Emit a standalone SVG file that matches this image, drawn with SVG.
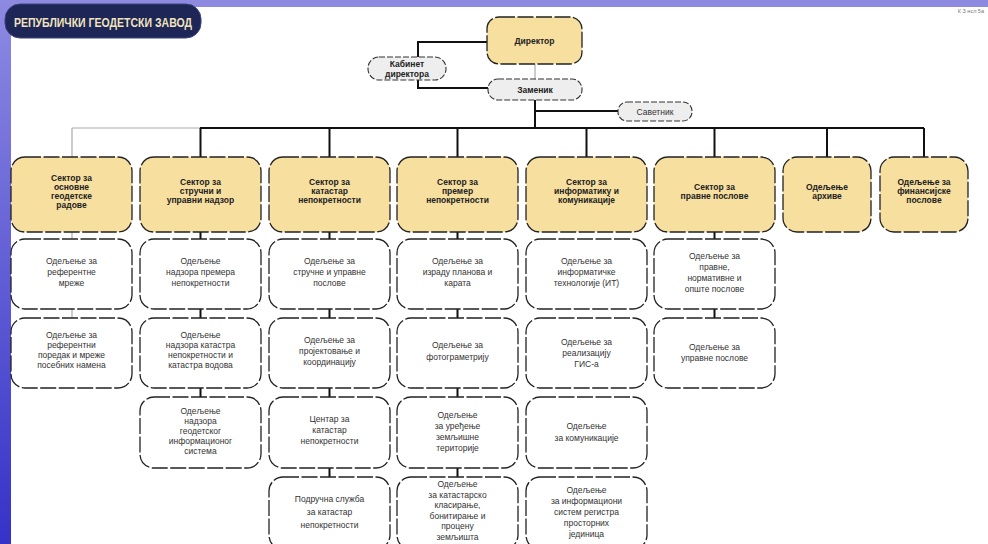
<svg xmlns="http://www.w3.org/2000/svg" width="988" height="544" viewBox="0 0 988 544">
<defs>
<linearGradient id="side" x1="0" y1="0" x2="0" y2="1">
<stop offset="0" stop-color="#8e8ae2"/>
<stop offset="1" stop-color="#3532c8"/>
</linearGradient>
<style>
.sec{fill:#f7dfa0;stroke:#222;stroke-width:1.3;stroke-dasharray:16 2.5}
.sub{fill:#fff;stroke:#222;stroke-width:1.3;stroke-dasharray:16 2.5}
.pill{fill:#eeeeee;stroke:#333;stroke-width:1.1;stroke-dasharray:6 2}
.st{font-family:"Liberation Sans",Arial,sans-serif;font-size:8.5px;font-weight:bold;fill:#222;text-anchor:middle}
.t{font-family:"Liberation Sans",Arial,sans-serif;font-size:8.5px;fill:#333;text-anchor:middle}
.ln{stroke:#111;stroke-width:2;fill:none}
.lg{stroke:#aaa;stroke-width:1.2;fill:none}
</style>
</defs>
<rect width="988" height="544" fill="#fff"/>
<rect x="0" y="0" width="988" height="7" fill="#8e8ae2"/>
<rect x="0" y="0" width="11" height="544" fill="url(#side)"/>
<g id="title">
<rect x="5" y="4" width="196" height="34" rx="15" fill="#1d2656" stroke="#3a4477" stroke-width="1"/>
<text x="103" y="26.5" font-family="'Liberation Sans',Arial,sans-serif" font-size="13.5" font-weight="bold" fill="#f1e4bd" text-anchor="middle" textLength="178" lengthAdjust="spacingAndGlyphs">РЕПУБЛИЧКИ ГЕОДЕТСКИ ЗАВОД</text>
</g>
<text x="984" y="13" font-family="'Liberation Sans',Arial,sans-serif" font-size="5.5" fill="#777" text-anchor="end">К З нсл 5а</text>
<g id="connectors">
<path class="ln" d="M487 42H418V88H488"/>
<path class="lg" d="M535 64V79"/>
<path class="ln" d="M535 100V128M535 111H618"/>
<path class="lg" d="M72 128H200"/>
<path class="ln" d="M200 128H924" stroke-width="2.5"/>
<path class="lg" d="M72 128V157M72 232V239M72 309V318"/>
<path class="ln" d="M200.5 128V157M329.5 128V157M457.5 128V157M586.5 128V157M714.5 128V157M827 128V157M924 128V157"/>
<path class="ln" d="M200.5 232V239M200.5 309V318M200.5 388V397"/>
<path class="ln" d="M329.5 232V239M329.5 309V318M329.5 388V397M329.5 468V477"/>
<path class="ln" d="M457.5 232V239M457.5 309V318M457.5 388V397M457.5 468V477"/>
<path class="ln" d="M714.5 232V239M714.5 309V318"/>
</g>
<g id="director">
<rect x="487" y="17" width="95" height="47" rx="12" class="sec"/>
<text class="st" x="534.5" y="44">Директор</text>
</g>
<g id="kabinet">
<rect x="368" y="57" width="78" height="23" rx="11" class="pill"/>
<text class="st" x="407" y="67">Кабинет</text>
<text class="st" x="407" y="77">директора</text>
</g>
<g id="zamenik">
<rect x="488" y="79" width="94" height="21" rx="10" class="pill"/>
<text class="st" x="535" y="92.5">Заменик</text>
</g>
<g id="savetnik">
<rect x="618" y="102" width="74" height="19" rx="9" class="pill"/>
<text class="t" x="655" y="114.5">Саветник</text>
</g>
<g id="s1">
<rect x="11" y="157" width="121" height="75" rx="14" class="sec"/>
<text class="st" x="71.5" y="180.5">Сектор за</text>
<text class="st" x="71.5" y="189.5">основне</text>
<text class="st" x="71.5" y="198.5">геодетске</text>
<text class="st" x="71.5" y="207.5">радове</text>
</g>
<g id="s2">
<rect x="140" y="157" width="121" height="75" rx="14" class="sec"/>
<text class="st" x="200.5" y="185">Сектор за</text>
<text class="st" x="200.5" y="194">стручни и</text>
<text class="st" x="200.5" y="203">управни надзор</text>
</g>
<g id="s3">
<rect x="269" y="157" width="121" height="75" rx="14" class="sec"/>
<text class="st" x="329.5" y="185">Сектор за</text>
<text class="st" x="329.5" y="194">катастар</text>
<text class="st" x="329.5" y="203">непокретности</text>
</g>
<g id="s4">
<rect x="397" y="157" width="121" height="75" rx="14" class="sec"/>
<text class="st" x="457.5" y="185">Сектор за</text>
<text class="st" x="457.5" y="194">премер</text>
<text class="st" x="457.5" y="203">непокретности</text>
</g>
<g id="s5">
<rect x="526" y="157" width="121" height="75" rx="14" class="sec"/>
<text class="st" x="586.5" y="185">Сектор за</text>
<text class="st" x="586.5" y="194">информатику и</text>
<text class="st" x="586.5" y="203">комуникације</text>
</g>
<g id="s6">
<rect x="654" y="157" width="121" height="75" rx="14" class="sec"/>
<text class="st" x="714.5" y="189.5">Сектор за</text>
<text class="st" x="714.5" y="198.5">правне послове</text>
</g>
<g id="s7">
<rect x="783" y="157" width="88" height="75" rx="14" class="sec"/>
<text class="st" x="827" y="189.5">Одељење</text>
<text class="st" x="827" y="198.5">архиве</text>
</g>
<g id="s8">
<rect x="880" y="157" width="88" height="75" rx="14" class="sec"/>
<text class="st" x="924" y="185">Одељење за</text>
<text class="st" x="924" y="194">финансијске</text>
<text class="st" x="924" y="203">послове</text>
</g>
<g id="c1r1">
<rect x="11" y="239" width="121" height="70" rx="14" class="sub"/>
<text class="t" x="71.5" y="264">Одељење за</text>
<text class="t" x="71.5" y="275">референтне</text>
<text class="t" x="71.5" y="286">мреже</text>
</g>
<g id="c1r2">
<rect x="11" y="318" width="121" height="70" rx="14" class="sub"/>
<text class="t" x="71.5" y="338">Одељење за</text>
<text class="t" x="71.5" y="348">референтни</text>
<text class="t" x="71.5" y="358">поредак и мреже</text>
<text class="t" x="71.5" y="368">посебних намена</text>
</g>
<g id="c2r1">
<rect x="140" y="239" width="121" height="70" rx="14" class="sub"/>
<text class="t" x="200.5" y="264">Одељење</text>
<text class="t" x="200.5" y="275">надзора премера</text>
<text class="t" x="200.5" y="286">непокретности</text>
</g>
<g id="c2r2">
<rect x="140" y="318" width="121" height="70" rx="14" class="sub"/>
<text class="t" x="200.5" y="338">Одељење</text>
<text class="t" x="200.5" y="348">надзора катастра</text>
<text class="t" x="200.5" y="358">непокретности и</text>
<text class="t" x="200.5" y="368">катастра водова</text>
</g>
<g id="c2r3">
<rect x="140" y="397" width="121" height="71" rx="14" class="sub"/>
<text class="t" x="200.5" y="414">Одељење</text>
<text class="t" x="200.5" y="424">надзора</text>
<text class="t" x="200.5" y="434">геодетског</text>
<text class="t" x="200.5" y="444">информационог</text>
<text class="t" x="200.5" y="454">система</text>
</g>
<g id="c3r1">
<rect x="269" y="239" width="121" height="70" rx="14" class="sub"/>
<text class="t" x="329.5" y="264">Одељење за</text>
<text class="t" x="329.5" y="275">стручне и управне</text>
<text class="t" x="329.5" y="286">послове</text>
</g>
<g id="c3r2">
<rect x="269" y="318" width="121" height="70" rx="14" class="sub"/>
<text class="t" x="329.5" y="343">Одељење за</text>
<text class="t" x="329.5" y="354">пројектовање и</text>
<text class="t" x="329.5" y="365">координацију</text>
</g>
<g id="c3r3">
<rect x="269" y="397" width="121" height="71" rx="14" class="sub"/>
<text class="t" x="329.5" y="422">Центар за</text>
<text class="t" x="329.5" y="433">катастар</text>
<text class="t" x="329.5" y="444">непокретности</text>
</g>
<g id="c3r4">
<rect x="269" y="477" width="121" height="72" rx="14" class="sub"/>
<text class="t" x="329.5" y="502">Подручна служба</text>
<text class="t" x="329.5" y="515">за катастар</text>
<text class="t" x="329.5" y="528">непокретности</text>
</g>
<g id="c4r1">
<rect x="397" y="239" width="121" height="70" rx="14" class="sub"/>
<text class="t" x="457.5" y="264">Одељење за</text>
<text class="t" x="457.5" y="275">израду планова и</text>
<text class="t" x="457.5" y="286">карата</text>
</g>
<g id="c4r2">
<rect x="397" y="318" width="121" height="70" rx="14" class="sub"/>
<text class="t" x="457.5" y="348">Одељење за</text>
<text class="t" x="457.5" y="360">фотограметрију</text>
</g>
<g id="c4r3">
<rect x="397" y="397" width="121" height="71" rx="14" class="sub"/>
<text class="t" x="457.5" y="418">Одељење</text>
<text class="t" x="457.5" y="429">за уређење</text>
<text class="t" x="457.5" y="440">земљишне</text>
<text class="t" x="457.5" y="451">територије</text>
</g>
<g id="c4r4">
<rect x="397" y="477" width="121" height="72" rx="14" class="sub"/>
<text class="t" x="457.5" y="487">Одељење</text>
<text class="t" x="457.5" y="497.5">за катастарско</text>
<text class="t" x="457.5" y="508">класирање,</text>
<text class="t" x="457.5" y="518.5">бонитирање и</text>
<text class="t" x="457.5" y="529">процену</text>
<text class="t" x="457.5" y="539.5">земљишта</text>
</g>
<g id="c5r1">
<rect x="526" y="239" width="121" height="70" rx="14" class="sub"/>
<text class="t" x="586.5" y="264">Одељење за</text>
<text class="t" x="586.5" y="275">информатичке</text>
<text class="t" x="586.5" y="286">технологије (ИТ)</text>
</g>
<g id="c5r2">
<rect x="526" y="318" width="121" height="70" rx="14" class="sub"/>
<text class="t" x="586.5" y="345">Одељење за</text>
<text class="t" x="586.5" y="356">реализацију</text>
<text class="t" x="586.5" y="367">ГИС-а</text>
</g>
<g id="c5r3">
<rect x="526" y="397" width="121" height="71" rx="14" class="sub"/>
<text class="t" x="586.5" y="429">Одељење</text>
<text class="t" x="586.5" y="441">за комуникације</text>
</g>
<g id="c5r4">
<rect x="526" y="477" width="121" height="72" rx="14" class="sub"/>
<text class="t" x="586.5" y="493">Одељење</text>
<text class="t" x="586.5" y="504">за информациони</text>
<text class="t" x="586.5" y="515">систем регистра</text>
<text class="t" x="586.5" y="526">просторних</text>
<text class="t" x="586.5" y="537">јединица</text>
</g>
<g id="c6r1">
<rect x="654" y="239" width="121" height="70" rx="14" class="sub"/>
<text class="t" x="714.5" y="259">Одељење за</text>
<text class="t" x="714.5" y="270">правне,</text>
<text class="t" x="714.5" y="281">нормативне и</text>
<text class="t" x="714.5" y="292">опште послове</text>
</g>
<g id="c6r2">
<rect x="654" y="318" width="121" height="70" rx="14" class="sub"/>
<text class="t" x="714.5" y="350">Одељење за</text>
<text class="t" x="714.5" y="361">управне послове</text>
</g>
</svg>
